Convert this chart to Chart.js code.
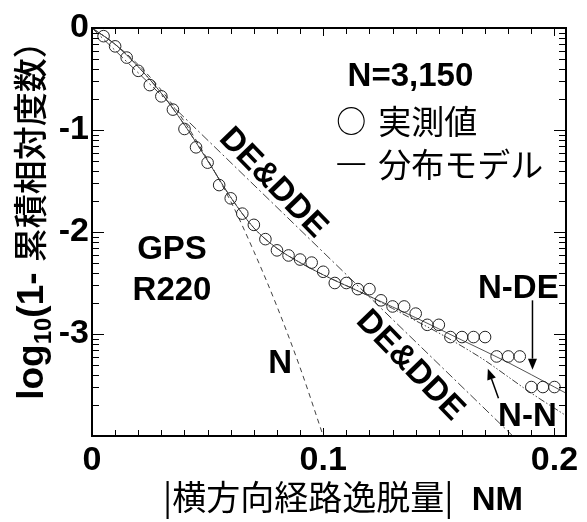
<!DOCTYPE html>
<html><head><meta charset="utf-8">
<script src="https://cdn.jsdelivr.net/npm/chart.js@4.4.1/dist/chart.umd.min.js"></script>
<style>html,body{margin:0;padding:0;background:#fff;overflow:hidden}#wrap{width:587px;height:522px}</style>
</head><body><div id="wrap"><canvas id="c" width="587" height="522"></canvas></div>
<script>
// ---- data ----
const obsX = [0.005,0.010,0.015,0.020,0.025,0.030,0.035,0.040,0.045,0.050,
              0.055,0.060,0.065,0.070,0.075,0.080,0.085,0.090,0.095,0.100,
              0.105,0.110,0.115,0.120,0.125,0.130,0.135,0.140,0.145,0.150,
              0.155,0.160,0.165,0.170,0.175,0.180,0.185,0.190,0.195,0.200];
const obsY = [-0.08,-0.18,-0.29,-0.42,-0.56,-0.67,-0.80,-0.99,-1.17,-1.32,
              -1.54,-1.67,-1.82,-1.93,-2.07,-2.18,-2.23,-2.27,-2.30,-2.39,
              -2.50,-2.50,-2.56,-2.56,-2.67,-2.73,-2.73,-2.80,-2.91,-2.91,
              -3.03,-3.03,-3.03,-3.03,-3.22,-3.22,-3.22,-3.52,-3.52,-3.52];
const nX = [0,0.01,0.02,0.03,0.04,0.05,0.06,0.07,0.08,0.09,0.10];
const nY = [0,-0.16,-0.36,-0.61,-0.92,-1.29,-1.70,-2.19,-2.73,-3.33,-4.00];
const deX = [0,0.182];
const deY = [0,-4.00];
const ndeX = [0,0.01,0.02,0.03,0.04,0.05,0.06,0.07,0.08,0.09,0.10,0.12,0.14,0.16,0.18,0.20,0.205];
const ndeY = [0,-0.16,-0.38,-0.64,-0.95,-1.30,-1.66,-1.96,-2.16,-2.30,-2.42,-2.63,-2.84,-3.06,-3.28,-3.52,-3.58];
const nnX = [0,0.01,0.02,0.03,0.04,0.05,0.06,0.07,0.08,0.09,0.10,0.12,0.13,0.14,0.15,0.16,0.17,0.18,0.19,0.205];
const nnY = [0,-0.16,-0.38,-0.64,-0.95,-1.30,-1.66,-1.96,-2.16,-2.30,-2.42,-2.63,-2.75,-2.87,-2.99,-3.12,-3.26,-3.42,-3.58,-3.80];
const xTickValues = [0,0.1,0.2];
const xTickLabels = ['0','0.1','0.2'];
const yTickValues = [0,-1,-2,-3];
const yTickLabels = ['0','-1','-2','-3'];

// ---- styles ----
const LAT = '"Liberation Sans", Arial, sans-serif';
const CJK = '"Noto Sans CJK JP", sans-serif';
const BOLD = 'bold 33px ' + LAT;
const LINE = '#404040';
const pts = (xs, ys) => xs.map((x, i) => ({x: x, y: ys[i]}));
const near = (a, b) => Math.abs(a - b) < 1e-9;

const framePlugin = {
  id: 'frame',
  afterDraw(chart) {
    const {ctx, chartArea: a, scales: {x, y}} = chart;
    ctx.save();
    ctx.strokeStyle = '#000';
    ctx.lineWidth = 1;
    const seg = (x1, y1, x2, y2) => { ctx.beginPath(); ctx.moveTo(x1, y1); ctx.lineTo(x2, y2); ctx.stroke(); };
    x.ticks.forEach(t => {
      const px = Math.round(x.getPixelForValue(t.value)) + 0.5;
      const L = xTickValues.some(v => near(v, t.value)) ? 8 : 6;
      seg(px, a.bottom, px, a.bottom - L);
      seg(px, a.top, px, a.top + L);
    });
    y.ticks.forEach(t => {
      const py = Math.round(y.getPixelForValue(t.value)) + 0.5;
      const L = Number.isInteger(Math.round(t.value * 1e6) / 1e6) ? 12 : 7;
      seg(a.left, py, a.left + L, py);
      seg(a.right, py, a.right - L, py);
    });
    ctx.lineWidth = 2;
    ctx.strokeRect(a.left, a.top, a.right - a.left, a.bottom - a.top);
    ctx.restore();
  }
};

const annotPlugin = {
  id: 'annot',
  afterDraw(chart) {
    const {ctx, scales: {x, y}} = chart;
    const P = (vx, vy) => [x.getPixelForValue(vx), y.getPixelForValue(vy)];
    ctx.save();
    ctx.fillStyle = '#000';
    ctx.strokeStyle = '#000';
    const txt = (s, vx, vy, font, align, rot, capOff) => {
      const [px, py] = P(vx, vy);
      ctx.save();
      ctx.translate(px, py);
      if (rot) ctx.rotate(rot);
      ctx.font = font;
      ctx.textAlign = align || 'center';
      ctx.textBaseline = 'alphabetic';
      ctx.fillText(s, 0, capOff);
      ctx.restore();
    };
    // bold latin labels (centre positions, cap offset = half cap height)
    txt('N=3,150', 0.1377, -0.45, BOLD, 'center', 0, 12);
    txt('GPS', 0.0346, -2.15, BOLD, 'center', 0, 12);
    txt('R220', 0.0346, -2.55, BOLD, 'center', 0, 12);
    txt('N', 0.0814, -3.26, BOLD, 'center', 0, 12);
    txt('DE&DDE', 0.0792, -1.50, BOLD, 'center', 0.80, 12);
    txt('DE&DDE', 0.1385, -3.29, BOLD, 'center', 0.80, 12);
    txt('N-DE', 0.1844, -2.53, BOLD, 'center', 0, 12);
    txt('N-N', 0.1883, -3.78, BOLD, 'center', 0, 12);
    // legend
    txt('○', 0.1121, -0.91, '30px ' + CJK, 'center', 0, 11);
    txt('実測値', 0.1238, -0.92, '33px ' + CJK, 'left', 0, 12);
    txt('—', 0.1121, -1.31, '28px ' + LAT, 'center', 0, 9);
    txt('分布モデル', 0.1238, -1.34, '33px ' + CJK, 'left', 0, 12);
    // arrows
    const arrow = (x1, y1, x2, y2) => {
      const [a1, b1] = P(x1, y1), [a2, b2] = P(x2, y2);
      const ang = Math.atan2(b2 - b1, a2 - a1);
      const hl = 11, hw = 4.5;
      ctx.lineWidth = 1.5;
      ctx.beginPath(); ctx.moveTo(a1, b1);
      ctx.lineTo(a2 - hl * Math.cos(ang), b2 - hl * Math.sin(ang)); ctx.stroke();
      ctx.beginPath();
      ctx.moveTo(a2, b2);
      ctx.lineTo(a2 - hl * Math.cos(ang) + hw * Math.sin(ang), b2 - hl * Math.sin(ang) - hw * Math.cos(ang));
      ctx.lineTo(a2 - hl * Math.cos(ang) - hw * Math.sin(ang), b2 - hl * Math.sin(ang) + hw * Math.cos(ang));
      ctx.closePath(); ctx.fill();
    };
    arrow(0.1905, -2.67, 0.1905, -3.35);
    arrow(0.1758, -3.63, 0.1712, -3.34);
    ctx.restore();

    // axis titles
    ctx.save();
    ctx.fillStyle = '#000';
    ctx.textBaseline = 'alphabetic';
    ctx.textAlign = 'left';
    // y title (rotated)
    const yParts = [
      {t: 'log', f: 'bold 37px ' + LAT, dy: 0},
      {t: '10', f: 'bold 24px ' + LAT, dy: 8},
      {t: '(1- ', f: 'bold 37px ' + LAT, dy: 0},
      {t: '累積相対度数）', f: '500 34px ' + CJK, dy: 0}
    ];
    let tot = 0;
    yParts.forEach(p => { ctx.font = p.f; p.w = ctx.measureText(p.t).width; tot += p.w; });
    ctx.translate(31, 212);
    ctx.rotate(-Math.PI / 2);
    let cx = -tot / 2;
    yParts.forEach(p => { ctx.font = p.f; ctx.fillText(p.t, cx, 12 + p.dy); cx += p.w; });
    ctx.restore();
    // x title
    ctx.save();
    ctx.fillStyle = '#000';
    ctx.textBaseline = 'alphabetic';
    ctx.textAlign = 'left';
    const xParts = [
      {t: '|横方向経路逸脱量|', f: '34px ' + CJK},
      {t: '  NM', f: 'bold 33px ' + LAT}
    ];
    let tw = 0;
    xParts.forEach(p => { ctx.font = p.f; p.w = ctx.measureText(p.t).width; tw += p.w; });
    let sx = 343 - tw / 2;
    xParts.forEach(p => { ctx.font = p.f; ctx.fillText(p.t, sx, 510); sx += p.w; });
    ctx.restore();
  }
};

const lineDs = (label, xs, ys, dash, width) => ({
  label: label, data: pts(xs, ys), showLine: true, pointRadius: 0,
  borderColor: LINE, borderWidth: width || 1, borderDash: dash,
  cubicInterpolationMode: 'monotone', fill: false
});

new Chart(document.getElementById('c'), {
  type: 'scatter',
  data: {
    datasets: [
      {label: '実測値', data: pts(obsX, obsY), showLine: false, pointStyle: 'circle',
       pointRadius: 5.8, pointBorderWidth: 1, pointBorderColor: '#222',
       pointBackgroundColor: 'rgba(0,0,0,0)'},
      lineDs('N', nX, nY, [5, 4]),
      lineDs('DE&DDE', deX, deY, [9, 3, 2, 3]),
      lineDs('N-DE', ndeX, ndeY, [], 0.9),
      lineDs('N-N', nnX, nnY, [7, 2, 1.5, 2, 1.5, 2])
    ]
  },
  options: {
    responsive: false, animation: false, devicePixelRatio: 1,
    layout: {padding: {left: 0, top: 28, right: 21, bottom: 0}},
    plugins: {legend: {display: false}, tooltip: {enabled: false}},
    scales: {
      x: {
        type: 'linear', min: 0, max: 0.205,
        afterBuildTicks: s => {
          const t = [];
          for (let i = 0; i <= 20; i++) t.push({value: i / 100});
          s.ticks = t;
        },
        afterFit: s => { s.height = 86; },
        grid: {display: false, drawTicks: false},
        border: {display: false},
        ticks: {
          autoSkip: false, maxRotation: 0, padding: 4, color: '#000',
          font: {family: LAT, weight: 'bold', size: 34},
          callback: v => { const i = xTickValues.findIndex(w => near(w, v)); return i >= 0 ? xTickLabels[i] : ''; }
        }
      },
      y: {
        type: 'linear', min: -4, max: 0,
        afterBuildTicks: s => {
          const t = [];
          for (let d = 0; d >= -4; d--) t.push({value: d});
          for (let d = -4; d < 0; d++) for (let k = 2; k <= 9; k++) t.push({value: d + Math.log10(k)});
          t.sort((a, b) => a.value - b.value);
          s.ticks = t;
        },
        afterFit: s => { s.width = 92; },
        grid: {display: false, drawTicks: false},
        border: {display: false},
        ticks: {
          autoSkip: false, padding: 3, color: '#000',
          font: {family: LAT, weight: 'bold', size: 34},
          callback: v => { const i = yTickValues.findIndex(w => near(w, v)); return i >= 0 ? yTickLabels[i] : ''; }
        }
      }
    }
  },
  plugins: [framePlugin, annotPlugin]
});
</script>
</body></html>
